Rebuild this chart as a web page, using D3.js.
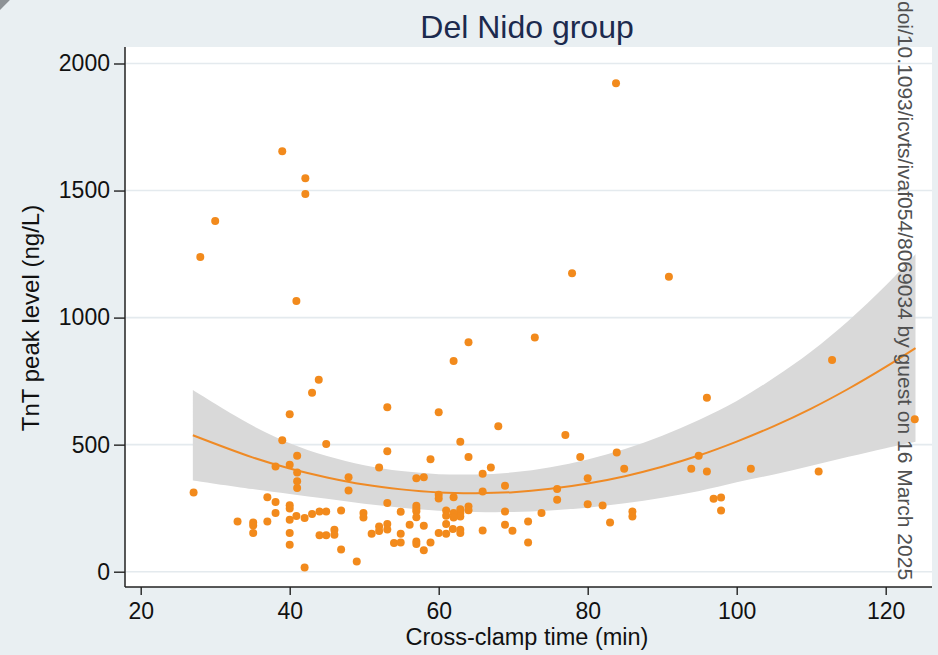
<!DOCTYPE html>
<html><head><meta charset="utf-8">
<script src="https://cdn.jsdelivr.net/npm/d3@7"></script>
<style>html,body{margin:0;padding:0;background:#e9eff2;} svg{display:block;}</style>
</head><body>
<svg id="chart" width="938" height="655"></svg>
<script>
const title = "Del Nido group";
const xLabel = "Cross-clamp time (min)";
const yLabel = "TnT peak level (ng/L)";
const watermark = "doi/10.1093/icvts/ivaf054/8069034 by guest on 16 March 2025";
const xTicks = [20, 40, 60, 80, 100, 120];
const yTicks = [0, 500, 1000, 1500, 2000];

const clampTime = [27.1,28.0,30.0,39.0,42.1,42.1,40.9,83.8,77.9,90.9,
72.9,64.0,62.0,112.8,123.9,43.9,43.0,96.0,53.1,60.0,
40.0,68.0,77.0,39.0,44.9,62.9,41.0,53.1,64.0,58.9,
79.0,83.9,94.9,38.1,40.0,52.0,67.0,84.9,93.9,96.0,
101.9,111.0,41.0,65.9,57.0,58.0,47.9,80.0,41.0,41.0,
68.9,75.9,47.9,65.9,60.0,60.0,62.0,37.0,96.9,97.9,
75.9,38.1,53.1,80.0,82.0,40.0,40.0,57.0,57.0,57.0,
57.0,64.0,64.0,62.9,62.9,62.9,62.0,62.0,61.0,61.0,
61.0,61.0,61.9,62.9,62.9,60.0,65.9,54.9,49.9,49.9,
46.9,44.0,44.9,43.0,42.0,40.9,38.1,40.0,37.0,33.0,
35.1,35.1,35.1,40.0,40.0,44.0,44.9,46.0,46.0,46.9,
42.0,49.0,51.0,52.0,52.0,53.1,53.1,54.0,54.9,54.9,
56.1,57.0,57.0,58.0,58.0,58.9,68.9,68.9,69.9,72.0,
72.0,73.8,83.0,86.0,86.0,97.9];

const tntPeak = [312,1238,1380,1655,1548,1486,1065,1922,1175,1161,
922,903,829,833,600,755,704,685,647,628,
620,572,538,517,503,511,456,474,451,443,
451,469,456,414,421,410,410,405,405,394,
405,394,390,385,368,372,372,368,356,329,
338,325,320,316,303,288,293,293,287,292,
283,274,270,265,261,262,249,260,248,238,
214,257,242,246,231,217,231,213,241,220,
188,149,168,165,152,152,162,236,231,213,
241,237,237,227,211,219,231,204,198,198,
194,182,152,152,106,143,143,165,145,87,
17,40,149,178,160,188,166,113,149,115,
185,119,109,181,84,115,237,185,161,198,
115,231,194,237,217,241];

const fitX   = [27, 35, 40, 45, 50, 55, 60, 65, 70, 75, 80, 85, 90, 95, 100, 105, 110, 115, 120, 124];
const fitY   = [537,450,406,371,343,324,312,309,313,326,347,376,413,458,512,573,642,720,806,880];
const ciLow  = [359,325,306,287,267,252,240,235,235,241,252,269,291,318,352,383,417,452,486,511];
const ciHigh = [715,575,506,455,419,396,384,383,391,411,442,483,535,598,672,763,867,988,1126,1249];

const svg = d3.select("#chart");
const W = 938, H = 655;
const plot = {left: 125, right: 932, top: 47, bottom: 587};
const x = d3.scaleLinear().domain([20, 120]).range([140.7, 885.7]);
const y = d3.scaleLinear().domain([0, 2000]).range([571.7, 63.5]);
const font = "'Liberation Sans', Arial, Helvetica, sans-serif";

svg.append("rect").attr("width", W).attr("height", H).attr("fill", "#e9eff2");
// small corner artifact
svg.append("rect").attr("x", -7).attr("y", -7).attr("width", 14).attr("height", 14)
  .attr("transform", "rotate(45,0,0)").attr("fill", "#8d9296");

svg.append("rect").attr("x", plot.left).attr("y", plot.top)
  .attr("width", plot.right - plot.left).attr("height", plot.bottom - plot.top).attr("fill", "#ffffff");

// gridlines
svg.append("g").selectAll("line").data(yTicks).join("line")
  .attr("x1", plot.left + 1).attr("x2", plot.right)
  .attr("y1", d => y(d)).attr("y2", d => y(d))
  .attr("stroke", "#e4eaee").attr("stroke-width", 1.6);

// CI band
const idx = d3.range(fitX.length);
svg.append("path").datum(idx)
  .attr("d", d3.area().x(i => x(fitX[i])).y0(i => y(ciLow[i])).y1(i => y(ciHigh[i])).curve(d3.curveCatmullRom))
  .attr("fill", "#d9d9d9");

// fit line
svg.append("path").datum(idx)
  .attr("d", d3.line().x(i => x(fitX[i])).y(i => y(fitY[i])).curve(d3.curveCatmullRom))
  .attr("fill", "none").attr("stroke", "#ef8a25").attr("stroke-width", 2);

// points
svg.append("g").selectAll("circle").data(d3.range(clampTime.length)).join("circle")
  .attr("cx", i => x(clampTime[i])).attr("cy", i => y(tntPeak[i])).attr("r", 4)
  .attr("fill", "#f28a1c");

// y axis
const yAxis = svg.append("g").attr("transform", `translate(${plot.left},0)`)
  .call(d3.axisLeft(y).tickValues(yTicks).tickSize(11).tickPadding(4).tickFormat(d3.format("d")));
yAxis.select(".domain").remove();
yAxis.selectAll(".tick line").attr("stroke", "#222").attr("stroke-width", 1.4);
yAxis.selectAll("text").attr("font-family", font).attr("font-size", 23).attr("fill", "#111");
svg.append("line").attr("x1", plot.left).attr("x2", plot.left).attr("y1", plot.top).attr("y2", plot.bottom)
  .attr("stroke", "#222").attr("stroke-width", 1.5);

// x axis
const xAxis = svg.append("g").attr("transform", `translate(0,${plot.bottom})`)
  .call(d3.axisBottom(x).tickValues(xTicks).tickSize(8).tickPadding(8));
xAxis.select(".domain").remove();
xAxis.selectAll(".tick line").attr("stroke", "#222").attr("stroke-width", 1.4);
xAxis.selectAll("text").attr("font-family", font).attr("font-size", 23).attr("fill", "#111");
svg.append("line").attr("x1", plot.left).attr("x2", plot.right).attr("y1", plot.bottom).attr("y2", plot.bottom)
  .attr("stroke", "#222").attr("stroke-width", 1.5);

// titles
svg.append("text").attr("x", 527).attr("y", 38).attr("text-anchor", "middle")
  .attr("font-family", font).attr("font-size", 32).attr("fill", "#1c2a4e").text(title);
svg.append("text").attr("x", 527).attr("y", 645).attr("text-anchor", "middle")
  .attr("font-family", font).attr("font-size", 23.5).attr("fill", "#111").text(xLabel);
svg.append("text").attr("transform", "translate(39,318) rotate(-90)").attr("text-anchor", "middle")
  .attr("font-family", font).attr("font-size", 24).attr("fill", "#111").text(yLabel);

// watermark
svg.append("text").attr("transform", "translate(898,1) rotate(90)").attr("text-anchor", "start")
  .attr("font-family", font).attr("font-size", 21).attr("fill", "#505050").text(watermark);
</script>
</body></html>
